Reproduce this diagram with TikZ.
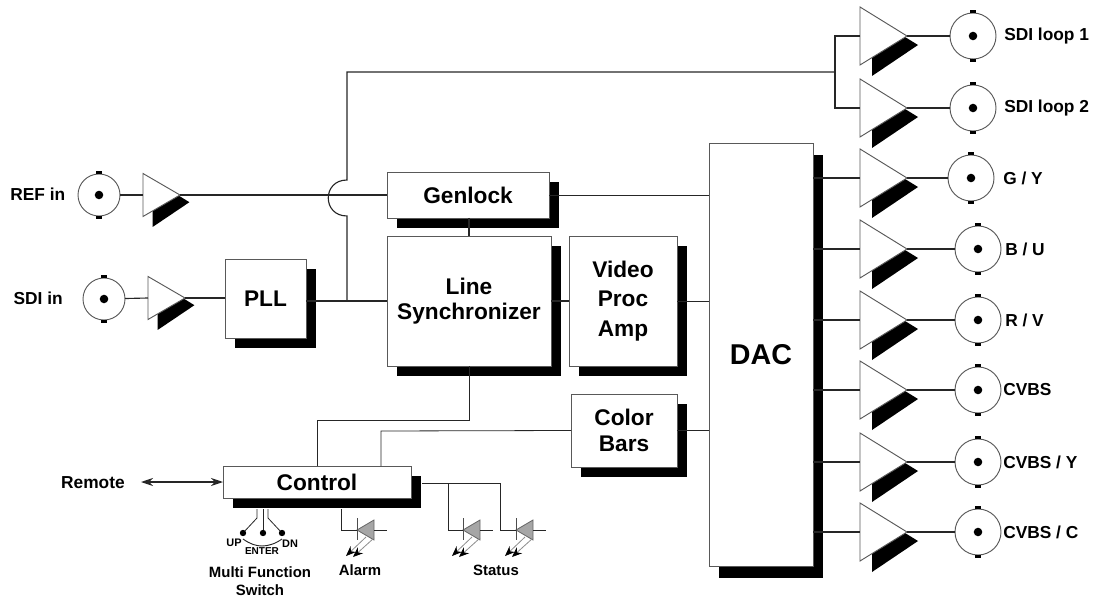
\documentclass[tikz,border=0pt]{standalone}
\usepackage{fontspec}
\setmainfont{Liberation Sans}
\usetikzlibrary{shapes.geometric,shadows,arrows.meta}

\tikzset{
  wire/.style = {color = black!85, line width = 0.85pt},
  block/.style = {draw = black!65, fill = white, line width = 0.7pt, inner sep = 0pt, outer sep = 0pt,
    font = \bfseries\fontsize{17}{19}\selectfont, align = center,
    general shadow = {fill = black, shadow xshift = 7.5pt, shadow yshift = #1}},
  block/.default = -7.5pt,
  bigamp/.style = {isosceles triangle, isosceles triangle stretches, shape border rotate = 0, draw = black!65, fill = white,
    line width = 0.7pt, inner sep = 0pt, outer sep = 0pt, minimum width = 43.5pt, minimum height = 35.25pt, anchor = lower side},
  smallamp/.style = {bigamp, minimum width = 32.25pt, minimum height = 27.75pt},
  bigbnc/.style = {circle, draw = black!65, fill = white, line width = 0.7pt, inner sep = 0pt, outer sep = 0pt, minimum size = 34.5pt},
  smallbnc/.style = {bigbnc, minimum size = 31.5pt},
  jack/.style = {anchor = west, inner sep = 0pt, font = \bfseries\fontsize{13}{15}\selectfont},
  note/.style = {inner sep = 0pt, align = center, font = \bfseries\fontsize{11.2}{13}\selectfont},
  tiny/.style = {inner sep = 0pt, font = \bfseries\fontsize{8}{9}\selectfont},
  ray/.style = {color = black!45, line width = 0.6pt, -{Stealth[black, length = 7.5pt, width = 6pt]}}
}

% amplifier: name, x of the base, y of the axis, size of the shadow
\newcommand{\drawamp}[4]{
  \fill[black, shift = {(#2, #3)}, scale = #4] (12, 15) -- (45, 1) -- (58, 9) -- (12, 40) -- cycle;
}
% connector: name, x, y, style
\newcommand{\drawbnc}[4]{
  \node[#4] (#1) at (#2, #3) {};
  \fill (#1.center) circle [radius = 3.2pt];
  \fill ([shift = {(-3, -3)}]#1.north) rectangle ([shift = {(3, 0)}]#1.north);
  \fill ([shift = {(-3, 0)}]#1.south) rectangle ([shift = {(3, 3)}]#1.south);
}
% LED: name, x of the tip, y
\newcommand{\drawled}[3]{
  \coordinate (#1) at (#2, #3);
  \filldraw[fill = black!35, draw = black!60, line width = 0.6pt] (#1) -- ([shift = {(17, -10)}]#1) -- ([shift = {(17, 10)}]#1) -- cycle;
  \draw[black!70, line width = 0.6pt] ([shift = {(0, -12)}]#1) -- ([shift = {(0, 10)}]#1);
  \draw[wire, line width = 0.7pt] ([shift = {(17, 0)}]#1) -- ([shift = {(30, 0)}]#1);
  \draw[ray] ([shift = {(9, 7)}]#1) -- ([shift = {(-11, 26)}]#1);
  \draw[ray] ([shift = {(17, 8)}]#1) -- ([shift = {(-4, 27)}]#1);
}

\begin{document}
\begin{tikzpicture}[x = 0.75pt, y = -0.75pt]
\useasboundingbox (0, 0) rectangle (1102, 598);

% blocks
\node[block, minimum width = 121.5pt, minimum height = 34.5pt] (Genlock) at (468, 195) {Genlock};
\node[block, minimum width = 123pt, minimum height = 97.5pt, font = \bfseries\fontsize{17}{18.7}\selectfont] (LineSync) at (469, 301) {Line\\Synchronizer};
\node[block, minimum width = 81pt, minimum height = 97.5pt, font = \bfseries\fontsize{17}{22}\selectfont] (VideoProc) at (623, 301) {Video\\Proc\\Amp};
\node[block, minimum width = 79.5pt, minimum height = 54.75pt, font = \bfseries\fontsize{17}{19.5}\selectfont] (ColorBars) at (624, 430.5) {Color\\Bars};
\node[block = -9pt, minimum width = 78pt, minimum height = 317.25pt, font = \bfseries\fontsize{21.5}{24}\selectfont] (DAC) at (761, 354.5) {DAC};
\node[block, minimum width = 60.75pt, minimum height = 59.25pt] (PLL) at (265.5, 298.5) {PLL};
\node[block, minimum width = 141pt, minimum height = 24pt] (Control) at (317, 482) {Control};

% inputs
\drawbnc{refBnc}{99}{195}{smallbnc}
\drawbnc{sdiBnc}{104}{299}{smallbnc}
\drawamp{refAmp}{143}{195}{0.8}
\node[smallamp] (refAmp) at (143, 195) {};
\drawamp{sdiAmp}{148}{298}{0.8}
\node[smallamp] (sdiAmp) at (148, 298) {};
\node[jack, anchor = east] (refText) at (65.5, 194) {REF in};
\node[jack, anchor = east] (sdiText) at (63, 298) {SDI in};
\draw[wire] (refBnc) -- (refAmp.lower side);
\draw[wire] (sdiBnc) -- (sdiAmp.lower side);
\draw[wire] (refAmp.apex) -- (Genlock.west);
\draw[wire] (sdiAmp.apex) -- (PLL.west |- sdiAmp.apex);

% outputs
\foreach \bname/\ypos/\xbnc/\xtext/\txt in {loopA/36/973/1004/{SDI loop 1}, loopB/108/973/1004/{SDI loop 2}, gy/178/971/1003/{G / Y}, bu/249/978/1005/{B / U}, rv/320/978/1005/{R / V}, cvbs/390/978/1003/{CVBS}, cvbsy/462/978/1003/{CVBS / Y}, cvbsc/532/978/1003/{CVBS / C}} {
  \drawbnc{\bname Bnc}{\xbnc}{\ypos}{bigbnc}
  \drawamp{\bname Amp}{860}{\ypos}{1}
  \node[bigamp] (\bname Amp) at (860, \ypos) {};
  \node[jack] (\bname Text) at (\xtext, \ypos) {\txt};
  \draw[wire] (\bname Amp.apex) -- (\bname Bnc);
}
\foreach \bname in {gy, bu, rv, cvbs, cvbsy, cvbsc} {
  \draw[wire] (DAC.east |- \bname Amp.lower side) -- (\bname Amp.lower side);
}

% loop path with the hop over REF
\coordinate (topBend) at (347, 72);
\coordinate (loopJoin) at (835, 72);
\coordinate (hopTop) at (347, 180);
\coordinate (hopEnd) at (347, 216);
\coordinate (pllJoin) at (347, 301);
\draw[wire] (pllJoin) -- (hopEnd) .. controls (322, 216) and (322, 180) .. (hopTop) -- (topBend) -- (loopJoin);
\draw[wire] (loopAAmp.lower side) -| (loopJoin) |- (loopBAmp.lower side);

% signal path
\draw[wire] (LineSync.west -| PLL.east) -- (LineSync.west);
\draw[wire] (Genlock.south -| LineSync.north) -- (LineSync.north);
\draw[wire, line width = 0.6pt] (Genlock.east) -- (DAC.west |- Genlock.east);
\draw[wire] (LineSync.east) -- (VideoProc.west);
\draw[wire, line width = 0.6pt] (VideoProc.east) -- (DAC.west |- VideoProc.east);
\draw[wire, line width = 0.6pt] (ColorBars.east) -- (DAC.west |- ColorBars.east);

% control
\coordinate (syncBend) at (469, 420);
\coordinate (syncDown) at (317, 420);
\coordinate (barsBend) at (381, 431);
\draw[wire, line width = 0.6pt] (LineSync.south) -- (syncBend) -- (syncDown) -- (Control.north -| syncDown);
\draw[wire, line width = 0.6pt] (ColorBars.west) -- (barsBend) -- (barsBend |- Control.north);
\node[jack, anchor = east] (remoteText) at (125, 483) {Remote};
\coordinate (remoteEnd) at (141, 482);
\draw[wire, {Stealth[length = 9pt, width = 6pt]}-{Stealth[length = 9pt, width = 6pt]}] (remoteEnd) -- (Control.west);

% LEDs
\drawled{alarmLed}{357}{530}
\drawled{statusLedA}{463}{530}
\drawled{statusLedB}{516}{530}
\coordinate (alarmOut) at (341, 509);
\coordinate (statusOut) at (422, 483);
\coordinate (statusBend) at (500, 483);
\coordinate (statusTee) at (448, 483);
\draw[wire, line width = 0.7pt] (alarmOut) |- (alarmLed);
\draw[wire, line width = 0.7pt] (statusOut) -- (statusBend) |- (statusLedB);
\draw[wire, line width = 0.7pt] (statusTee) |- (statusLedA);
\node[note] (alarmText) at (360, 570) {Alarm};
\node[note] (statusText) at (496, 570) {Status};

% switch
\coordinate (swOutA) at (257, 509);
\coordinate (swOutB) at (263, 509);
\coordinate (swOutC) at (268, 509);
\coordinate (swUp) at (243, 533);
\coordinate (swEnter) at (263, 533);
\coordinate (swDown) at (282, 533);
\draw[wire, line width = 0.6pt] (swOutA) -- (257, 518) -- (swUp);
\draw[wire, line width = 0.6pt] (swOutB) -- (swEnter);
\draw[wire, line width = 0.6pt] (swOutC) -- (268, 518) -- (swDown);
\fill (swUp) circle [radius = 2.4pt];
\fill (swEnter) circle [radius = 2.4pt];
\fill (swDown) circle [radius = 2.4pt];
\draw[wire, line width = 0.7pt] (243, 539) .. controls (250, 544) and (256, 546) .. (262, 546) .. controls (268, 546) and (275, 544) .. (282, 539);
\node[tiny, font = \bfseries\fontsize{8.2}{9}\selectfont] (upText) at (234, 543) {UP};
\node[tiny, font = \bfseries\fontsize{7.5}{9}\selectfont] (enterText) at (262, 551) {ENTER};
\node[tiny, font = \bfseries\fontsize{8.2}{9}\selectfont] (dnText) at (290, 544) {DN};
\node[note] (switchText) at (260, 581) {Multi Function\\Switch};
\end{tikzpicture}
\end{document}
